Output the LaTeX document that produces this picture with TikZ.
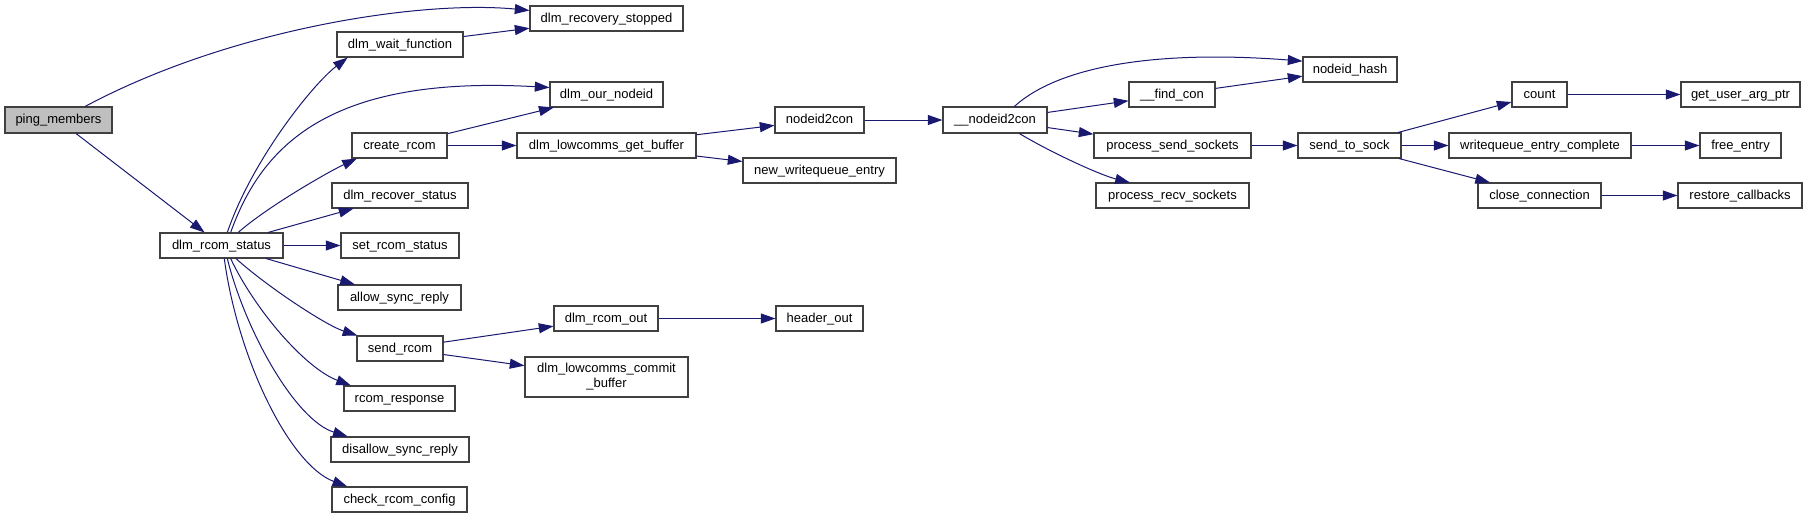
\documentclass[tikz,border=0pt]{standalone}
\usepackage{fontspec}
\setmainfont{Liberation Sans}
\usetikzlibrary{arrows.meta}
\definecolor{edgeblue}{HTML}{191970}
\definecolor{boxline}{HTML}{404040}
\definecolor{rootfill}{HTML}{BFBFBF}
\begin{document}
\begin{tikzpicture}[x=0.75pt,y=-0.75pt,
  fn/.style={draw=boxline, line width=0.8pt, rectangle, inner sep=0pt,
    font=\fontsize{9.75}{11.25}\selectfont, text height=7.5pt, text depth=2pt,
    minimum height=18.75pt},
  fntwo/.style={draw=boxline, line width=0.8pt, rectangle, inner sep=0pt,
    align=center, font=\fontsize{9.75}{11.25}\selectfont},
  rootbox/.style={fill=rootfill},
  call/.style={draw=edgeblue, line width=0.75pt, -{Triangle[length=11pt,width=7.5pt]}}
]
\path[use as bounding box] (0,0) rectangle (1808,519);

% column 1-2
\node[fn,rootbox,minimum width=80.25pt,minimum height=19.5pt] (ping) at (58.5,120) {ping\_members};
\node[fn,minimum width=92.25pt] (rcs) at (221.5,245.5) {dlm\_rcom\_status};
% column 3
\node[fn,minimum width=94.5pt] (wait) at (400,44.5) {dlm\_wait\_function};
\node[fn,minimum width=71.25pt] (create) at (399.5,145.5) {create\_rcom};
\node[fn,minimum width=102pt] (recover) at (400,195.5) {dlm\_recover\_status};
\node[fn,minimum width=88.5pt] (setrcom) at (400,245.5) {set\_rcom\_status};
\node[fn,minimum width=92.25pt] (allow) at (399.5,297.5) {allow\_sync\_reply};
\node[fn,minimum width=64.5pt] (sendrcom) at (400,348.5) {send\_rcom};
\node[fn,minimum width=83.25pt] (resp) at (399.5,398.5) {rcom\_response};
\node[fn,minimum width=103.5pt] (disallow) at (400,449.5) {disallow\_sync\_reply};
\node[fn,minimum width=101.25pt] (check) at (399.5,499.5) {check\_rcom\_config};
% column 4
\node[fn,minimum width=114.75pt] (stopped) at (606.5,18.5) {dlm\_recovery\_stopped};
\node[fn,minimum width=84.75pt] (ournode) at (606.5,94.5) {dlm\_our\_nodeid};
\node[fn,minimum width=134.25pt] (getbuf) at (606.5,145.5) {dlm\_lowcomms\_get\_buffer};
\node[fn,minimum width=78pt] (rcomout) at (606,318.5) {dlm\_rcom\_out};
\node[fntwo,minimum width=122.25pt,minimum height=30pt] (commit) at (606.5,377) {dlm\_lowcomms\_commit\\\_buffer};
% column 5
\node[fn,minimum width=66.75pt,minimum height=19.5pt] (ntc) at (819.5,120) {nodeid2con};
\node[fn,minimum width=114.75pt] (newwq) at (819.5,170.5) {new\_writequeue\_entry};
\node[fn,minimum width=65.25pt] (header) at (819.5,318.5) {header\_out};
% column 6
\node[fn,minimum width=78pt,minimum height=19.5pt] (untc) at (995,120) {\_\_nodeid2con};
% column 7
\node[fn,minimum width=64.5pt] (findcon) at (1172,94.5) {\_\_find\_con};
\node[fn,minimum width=117.75pt] (pss) at (1172.5,145.5) {process\_send\_sockets};
\node[fn,minimum width=114.75pt] (prs) at (1172.5,195.5) {process\_recv\_sockets};
% column 8
\node[fn,minimum width=70.5pt] (hash) at (1350,69.5) {nodeid\_hash};
\node[fn,minimum width=77.25pt] (sts) at (1349.5,145.5) {send\_to\_sock};
% column 9
\node[fn,minimum width=41.25pt] (count) at (1539.5,94.5) {count};
\node[fn,minimum width=136.5pt] (wec) at (1540,145.5) {writequeue\_entry\_complete};
\node[fn,minimum width=92.25pt] (close) at (1539.5,195.5) {close\_connection};
% column 10
\node[fn,minimum width=89.25pt] (guap) at (1740.5,94.5) {get\_user\_arg\_ptr};
\node[fn,minimum width=60.75pt] (free) at (1740.5,145.5) {free\_entry};
\node[fn,minimum width=93pt] (restore) at (1740,195.5) {restore\_callbacks};

% edges
\draw[call] (ping.27.9) .. controls (230,29) and (420,0) .. (stopped.174.3);
\draw[call] (ping) -- (rcs);
\draw[call] (wait) -- (stopped);
\draw[call] (rcs.66.3) .. controls (252,160) and (313,84) .. (wait.194.9);
\draw[call] (rcs.55.8) .. controls (262,145) and (330,75) .. (ournode.173.4);
\draw[call] (rcs.38.9) .. controls (267,207) and (328,172) .. (create.197.5);
\draw[call] (rcs) -- (recover);
\draw[call] (rcs) -- (setrcom);
\draw[call] (rcs) -- (allow);
\draw[call] (rcs.-42.8) .. controls (265,285) and (325,325) .. (sendrcom.163.4);
\draw[call] (rcs.-55.8) .. controls (255,310) and (305,368) .. (resp.165.8);
\draw[call] (rcs.-66.3) .. controls (245,330) and (295,420) .. (disallow.166.7);
\draw[call] (rcs.-78.7) .. controls (238,360) and (290,465) .. (check.166.6);
\draw[call] (create) -- (ournode);
\draw[call] (create) -- (getbuf);
\draw[call] (sendrcom) -- (rcomout);
\draw[call] (sendrcom) -- (commit);
\draw[call] (rcomout) -- (header);
\draw[call] (getbuf) -- (ntc);
\draw[call] (getbuf) -- (newwq);
\draw[call] (ntc) -- (untc);
\draw[call] (untc.35.8) .. controls (1060,65) and (1160,50) .. (hash.170.9);
\draw[call] (untc) -- (findcon);
\draw[call] (untc) -- (pss);
\draw[call] (untc.-29.5) .. controls (1050,152) and (1100,175) .. (prs.163.6);
\draw[call] (findcon) -- (hash);
\draw[call] (pss) -- (sts);
\draw[call] (sts) -- (count);
\draw[call] (sts) -- (wec);
\draw[call] (sts) -- (close);
\draw[call] (count) -- (guap);
\draw[call] (wec) -- (free);
\draw[call] (close) -- (restore);
\end{tikzpicture}
\end{document}
